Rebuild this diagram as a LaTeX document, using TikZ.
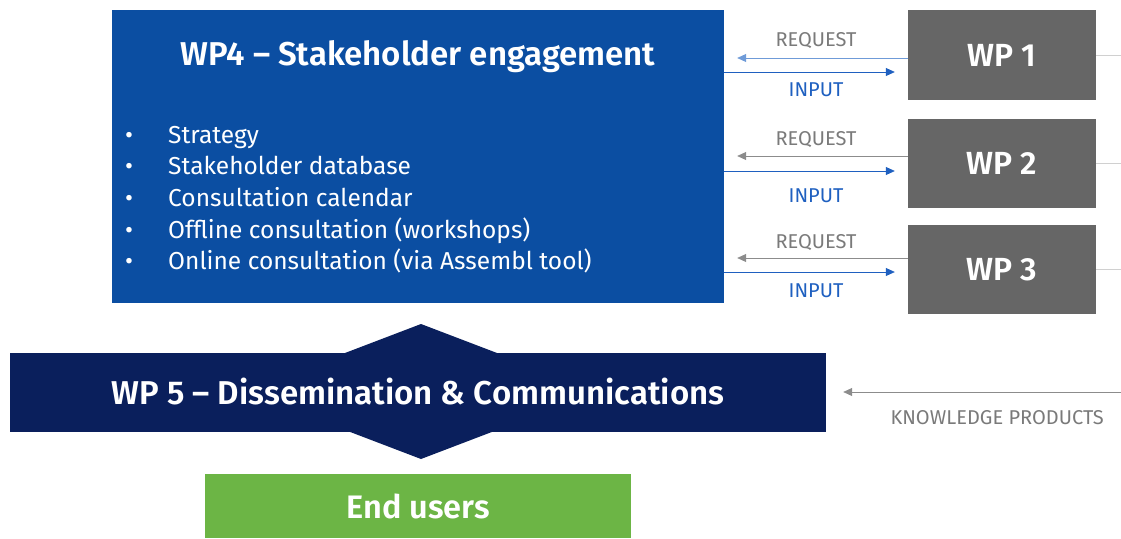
\documentclass[tikz,border=0pt]{standalone}
\usepackage{fontspec}
\setmainfont{Fira Sans}[BoldFont={* SemiBold}]
\usetikzlibrary{arrows.meta}

\definecolor{wpblue}{HTML}{0B4EA2}
\definecolor{wpnavy}{HTML}{0A1F5C}
\definecolor{wpgrey}{HTML}{666666}
\definecolor{wpgreen}{HTML}{6CB545}
\definecolor{arrowblue}{HTML}{1F60C0}
\definecolor{arrowlight}{HTML}{6F9BD8}
\definecolor{arrowgrey}{HTML}{8C8C8C}
\definecolor{labelgrey}{HTML}{7A7A7A}
\definecolor{stubgrey}{HTML}{D0D0D0}

\begin{document}
\begin{tikzpicture}[x=1pt,y=-1pt,
    wp node/.style={fill=wpgrey,text=white,minimum width=188pt,minimum height=90pt,
                    inner sep=0pt,font=\bfseries\fontsize{32}{34}\selectfont},
    item node/.style={anchor=base west,text=white,inner sep=0pt,font=\fontsize{24.5}{26}\selectfont},
    request/.style={-{Triangle[length=9pt,width=8pt]},thick,shorten >=13pt},
    input/.style={-{Triangle[length=9pt,width=8pt]},thick,draw=arrowblue,shorten >=13pt},
    tag node/.style={font=\fontsize{20}{22}\selectfont,inner sep=0pt}]

  \useasboundingbox (0,0) rectangle (1121,538);

  % work packages
  \node[fill=wpblue,minimum width=612pt,minimum height=293pt,inner sep=0pt] (wp4) at (418,156.5) {};
  \node[text=white,font=\bfseries\fontsize{33}{35}\selectfont] (title) at (418,57) {WP4 -- Stakeholder engagement};
  \foreach \txt [count=\i] in {Strategy,Stakeholder database,Consultation calendar,
      Offline consultation (workshops),Online consultation (via Assembl tool)}{
    \node[item node] (bul\i) at (125,143+31.7*\i-31.7) {•};
    \node[item node] (item\i) at (168,143+31.7*\i-31.7) {\txt};
  }

  \node[wp node] (wp1) at (1002,55) {WP 1};
  \node[wp node,minimum height=89pt] (wp2) at (1002,163.5) {WP 2};
  \node[wp node,minimum height=89pt] (wp3) at (1002,269.5) {WP 3};

  \coordinate (edge) at (1121,392);
  \foreach \n in {wp1,wp2,wp3}
    \draw[stubgrey,thick] (\n.east) -- (\n.east -| edge);

  % request / input arrows
  \path[every node/.style={tag node}]
    ([yshift=-3pt]wp1.west) edge[request,draw=arrowlight]
        node[above=9pt,text=labelgrey] {REQUEST} ([yshift=-3pt]wp1.west -| wp4.east)
    ([yshift=-17pt]wp1.west -| wp4.east) edge[input]
        node[below=10.5pt,text=arrowblue] {INPUT} ([yshift=-17pt]wp1.west)
    ([yshift=7.5pt]wp2.west) edge[request,draw=arrowgrey]
        node[above=8pt,text=labelgrey] {REQUEST} ([yshift=7.5pt]wp2.west -| wp4.east)
    ([yshift=-7.5pt]wp2.west -| wp4.east) edge[input]
        node[below=17.5pt,text=arrowblue] {INPUT} ([yshift=-7.5pt]wp2.west)
    ([yshift=11.5pt]wp3.west) edge[request,draw=arrowgrey]
        node[above=7.5pt,text=labelgrey] {REQUEST} ([yshift=11.5pt]wp3.west -| wp4.east)
    ([yshift=-2.5pt]wp3.west -| wp4.east) edge[input]
        node[below=11.5pt,text=arrowblue] {INPUT} ([yshift=-2.5pt]wp3.west);

  % dissemination
  \fill[wpnavy] (345,353) -- (421,324) -- (497,353) -- cycle;
  \fill[wpnavy] (345,430) -- (421,459) -- (497,430) -- cycle;
  \node[fill=wpnavy,text=white,minimum width=816pt,minimum height=79pt,inner sep=0pt,
        font=\bfseries\fontsize{33}{35}\selectfont] (wp5) at (418,392) {WP 5 -- Dissemination \& Communications};
  \draw[request,draw=arrowgrey,shorten >=17pt] (edge) -- (wp5.east)
    node[pos=0.42,below=18pt,tag node,text=labelgrey] {KNOWLEDGE PRODUCTS};

  \node[fill=wpgreen,text=white,minimum width=426pt,minimum height=64pt,inner sep=0pt,
        font=\bfseries\fontsize{32.5}{34}\selectfont] (users) at (418,506) {End users};
\end{tikzpicture}
\end{document}
